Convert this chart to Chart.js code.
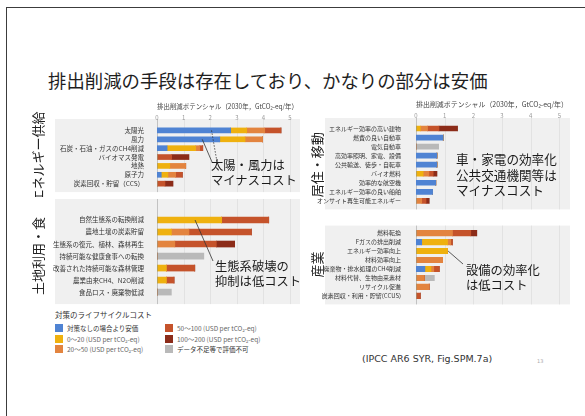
<!DOCTYPE html>
<html>
<head>
<meta charset="utf-8">
<script src="https://cdn.jsdelivr.net/npm/chart.js@4"></script>
<style>
  html, body { margin:0; padding:0; background:#fff; }
  body { width:585px; height:416px; position:relative; overflow:hidden;
         font-family:"Noto Sans CJK JP","Noto Sans",sans-serif; color:#1e1e1e; }
  .frame { position:absolute; left:6px; top:7px; right:-2px; bottom:-2px;
           border-left:1.5px solid #3c3c3c; border-top:1.5px solid #3c3c3c; }
  h1 { position:absolute; left:48px; top:67px; margin:0; font-size:18.4px; font-weight:400;
       line-height:26px; white-space:nowrap; color:#1e1e1e; }
  canvas { position:absolute; }
  .note { position:absolute; font-size:12.3px; line-height:15px; white-space:nowrap; color:#1a1a1a; z-index:2; }
  .lg { position:absolute; white-space:nowrap; font-size:6.5px; line-height:8px; color:#666; }
  .lg i { position:absolute; left:0; top:0; width:8px; height:8px; }
  .lg span { position:absolute; left:12px; top:0; }
  .lgt { position:absolute; left:55px; top:310px; font-size:7.5px; line-height:10px; color:#333; white-space:nowrap; }
  .cite { position:absolute; left:362px; top:352px; font-family:"DejaVu Sans",sans-serif; font-size:9.5px;
          line-height:14px; color:#333; white-space:nowrap; }
  .pg { position:absolute; left:537px; top:358px; font-family:"DejaVu Sans",sans-serif; font-size:5px; color:#aaa; }
</style>
</head>
<body>
<div class="frame"></div>
<h1>排出削減の手段は存在しており、かなりの部分は安価</h1>

<canvas id="cLT" width="275" height="99" style="left:26px;top:98px"></canvas>
<canvas id="cLB" width="275" height="108" style="left:26px;top:199px"></canvas>
<canvas id="cRT" width="266" height="120" style="left:305px;top:96px"></canvas>
<canvas id="cRB" width="266" height="93" style="left:305px;top:218px"></canvas>

<div class="note" style="left:211px;top:158px">太陽・風力は<br>マイナスコスト</div>
<div class="note" style="left:215px;top:259px">生態系破壊の<br>抑制は低コスト</div>
<div class="note" style="left:456px;top:151px;font-size:12.6px;line-height:15.6px">車・家電の効率化<br>公共交通機関等は<br>マイナスコスト</div>
<div class="note" style="left:466px;top:263px;line-height:14.5px">設備の効率化<br>は低コスト</div>

<div class="lgt">対策のライフサイクルコスト</div>
<div id="legend"></div>
<div class="cite">(IPCC AR6 SYR, Fig.SPM.7a)</div>
<div class="pg">13</div>

<script>
// emission reduction potential 2030 (GtCO2-eq/yr), one row per band:
// [cheaper than reference, 0-20, 20-50, 50-100, 100-200, cost not allocated]
const COST_BANDS = ["対策なしの場合より安価", "0〜20 (USD per tCO₂-eq)", "20〜50 (USD per tCO₂-eq)",
                    "50〜100 (USD per tCO₂-eq)", "100〜200 (USD per tCO₂-eq)", "データ不足等で評価不可"];
const AXIS_TITLE = "排出削減ポテンシャル（2030年，GtCO₂-eq/年）";
const X_TICKS = [0, 1, 2, 3, 4, 5];

const energyLabels = ["太陽光", "風力", "石炭・石油・ガスのCH4削減", "バイオマス発電", "地熱", "原子力", "炭素回収・貯留（CCS）"];
const energyBands = [
  [2.77, 2.36, 0.38, 0,    0,    0.16, 0],
  [0.60, 0.95, 1.07, 0,    0.48, 0.25, 0],
  [0.68, 0.66, 0.15, 0,    0.60, 0.29, 0],
  [0.61, 0,    0.12, 0.55, 0,    0.25, 0.30],
  [0,    0,    0,    0.65, 0,    0,    0.30],
  [0,    0,    0,    0,    0,    0,    0],
];

const landLabels = ["自然生態系の転換削減", "農地土壌の炭素貯留", "生態系の復元、植林、森林再生", "持続可能な健康食事への転換",
                    "改善された持続可能な森林管理", "農業由来CH4、N2O削減", "食品ロス・廃棄物低減"];
const landBands = [
  [0,    0,    0,    0,    0,    0,    0],
  [2.43, 0.54, 0,    0,    0.35, 0.35, 0],
  [0,    0.66, 0.67, 0,    0,    0,    0],
  [1.77, 2.35, 1.56, 0,    1.07, 0.29, 0],
  [0,    0,    0.69, 0,    0,    0,    0],
  [0,    0,    0,    1.76, 0,    0,    0.54],
];

const buildLabels = ["エネルギー効率の高い建物", "燃費の良い自動車", "電気自動車", "高効率照明、家電、設備", "公共輸送、徒歩・自転車",
                     "バイオ燃料", "効率的な航空機", "エネルギー効率の良い船舶", "オンサイト再生可能エネルギー"];
const buildBands = [
  [0,    0.95, 0,    0.73, 0.73, 0,    0.69, 0.58, 0],
  [0.15, 0,    0,    0,    0,    0.25, 0,    0,    0],
  [0.25, 0,    0,    0,    0,    0.20, 0,    0,    0.20],
  [0.40, 0,    0,    0,    0,    0.15, 0,    0,    0.15],
  [0.65, 0,    0,    0,    0,    0.13, 0,    0,    0.11],
  [0,    0,    0.79, 0,    0,    0,    0,    0,    0],
];

const indLabels = ["燃料転換", "Fガスの排出削減", "エネルギー効率向上", "材料効率向上", "廃棄物・排水処理のCH4削減",
                   "材料代替、生物由来素材", "リサイクル促進", "炭素回収・利用・貯留(CCUS)"];
const indBands = [
  [0,    0.20, 0,    0,    0.31, 0,    0,    0],
  [0,    0.90, 1.10, 0,    0.21, 0,    0,    0],
  [1.27, 0.11, 0,    0.93, 0.10, 0.29, 0.46, 0],
  [0.64, 0.06, 0,    0,    0.19, 0,    0,    0.15],
  [0.21, 0,    0,    0,    0,    0,    0,    0],
  [0,    0,    0,    0,    0,    0.35, 0,    0],
];

const BAND_COLORS = ["#4f83d3", "#efb10f", "#e3843f", "#c5532b", "#8c2c19", "#b9b9b9"];

Chart.defaults.font.family = '"Noto Sans CJK JP","Noto Sans",sans-serif';

// grey panel + vertical grid drawn under the labels, extended past the chart area
const panelPlugin = {
  id: "panel",
  beforeDraw(c, args, o) {
    const {ctx, chartArea: a, scales: {x}} = c;
    const top = a.top - o.padT, bottom = a.bottom + o.padB;
    ctx.save();
    ctx.fillStyle = "#f0f0f0";
    ctx.fillRect(a.left - o.padL, top, a.right - a.left + o.padL + 2, bottom - top);
    X_TICKS.forEach(v => {
      const px = Math.round(x.getPixelForValue(v)) + 0.5;
      ctx.strokeStyle = v === 0 ? "#c2c2c2" : "#e2e2e2";
      ctx.lineWidth = 1;
      ctx.beginPath(); ctx.moveTo(px, top); ctx.lineTo(px, bottom); ctx.stroke();
    });
    ctx.restore();
  }
};

// callout lines from a bar to a note (note position in page px)
const leaderPlugin = {
  id: "leaders",
  afterDatasetsDraw(c, args, o) {
    const {ctx, scales: {x, y}} = c;
    const ox = c.canvas.offsetLeft, oy = c.canvas.offsetTop;
    ctx.save();
    ctx.strokeStyle = "#333";
    ctx.lineWidth = 0.8;
    (o.lines || []).forEach(l => {
      ctx.setLineDash(l.dash || []);
      ctx.beginPath();
      ctx.moveTo(x.getPixelForValue(l.v), y.getPixelForValue(l.i));
      ctx.lineTo(l.to[0] - ox, l.to[1] - oy);
      ctx.stroke();
    });
    ctx.restore();
  }
};

function barChart(id, labels, bands, o) {
  const x = {stacked: true, position: "top", min: 0, max: 5.3, display: !!o.axis,
    grid: {display: false, drawTicks: false}, border: {display: false},
    ticks: {stepSize: 1, includeBounds: false, font: {size: 6}, color: "#9a9a9a", padding: 5},
    title: {display: true, text: AXIS_TITLE, font: {size: 7}, color: "#444", padding: {top: 4, bottom: 0}}};
  if (o.axis) x.afterFit = s => { s.height = 28; };
  return new Chart(document.getElementById(id), {
    type: "bar",
    data: {labels, datasets: bands.map((d, k) => ({
      label: COST_BANDS[k], data: d, backgroundColor: BAND_COLORS[k],
      borderWidth: 0, barThickness: o.bar}))},
    options: {
      indexAxis: "y", responsive: false, animation: false,
      layout: {padding: {top: o.padTop || 0, bottom: o.padBottom || 0, left: 0, right: 3}},
      plugins: {legend: {display: false}, tooltip: {enabled: false},
                panel: o.panel, leaders: {lines: o.leaders || []}},
      scales: {
        x,
        y: {stacked: true, grid: {display: false}, border: {display: false},
            ticks: {autoSkip: false, font: {size: o.lab}, color: "#333", padding: o.tickPad},
            title: {display: true, text: o.section, font: {size: 13}, color: "#222", padding: {top: 4, bottom: 0}},
            afterFit: s => { s.width = o.yW; }}
      }
    },
    plugins: [panelPlugin, leaderPlugin]
  });
}

barChart("cLT", energyLabels, energyBands, {axis: true, bar: 5, lab: 6.5, tickPad: 5, yW: 131,
  padBottom: 5, section: "エネルギー供給", panel: {padT: 7, padB: 4, padL: 102},
  leaders: [{i: 1, v: 1.7, to: [212, 162]}, {i: 0, v: 2.05, to: [217, 162], dash: [1.5, 1.5]}]});

barChart("cLB", landLabels, landBands, {bar: 6, lab: 6.5, tickPad: 5, yW: 131,
  padTop: 15, padBottom: 7, section: "土地利用・食", panel: {padT: 15, padB: 6, padL: 102},
  leaders: [{i: 0, v: 1.43, to: [213, 261]}]});

barChart("cRT", buildLabels, buildBands, {axis: true, bar: 5, lab: 6, tickPad: 7, yW: 111,
  padBottom: 4, section: "居住・移動", panel: {padT: 6, padB: 4, padL: 91}});

barChart("cRB", indLabels, indBands, {bar: 5.5, lab: 6, tickPad: 7, yW: 111,
  padTop: 3, padBottom: 4, section: "産業", panel: {padT: 3, padB: 4, padL: 91},
  leaders: [{i: 2, v: 1.12, to: [463, 264]}]});

// legend: two columns of three
const lg = document.getElementById("legend");
COST_BANDS.forEach((name, k) => {
  const col = Math.floor(k / 3), row = k % 3;
  const d = document.createElement("div");
  d.className = "lg";
  d.style.left = (55 + col * 110) + "px";
  d.style.top = (324 + row * 10.5) + "px";
  d.innerHTML = `<i style="background:${BAND_COLORS[k]}"></i><span${k === 0 || k === 5 ? ' style="color:#333"' : ""}>${name}</span>`;
  lg.appendChild(d);
});
</script>
</body>
</html>
